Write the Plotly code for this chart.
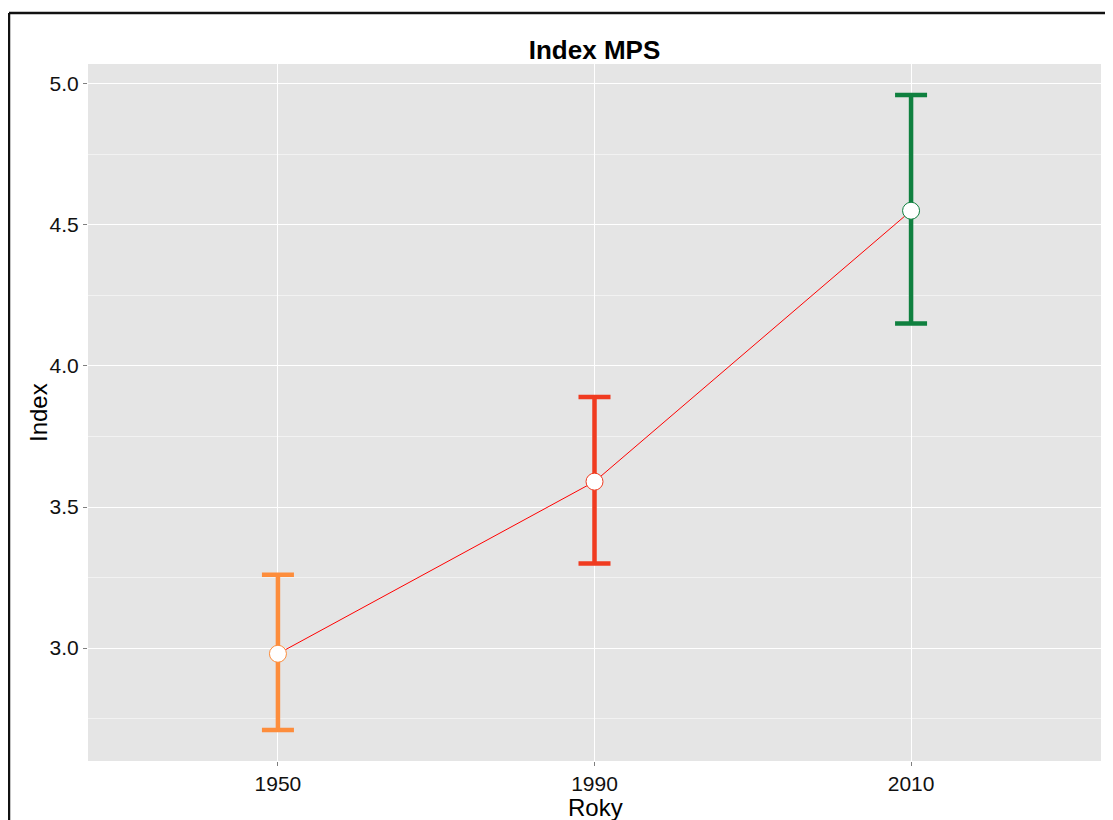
import plotly.graph_objects as go

years = ["1950", "1990", "2010"]
means = [2.98, 3.59, 4.55]
upper = [3.26, 3.89, 4.96]
lower = [2.71, 3.30, 4.15]
colors = ["#FD8D3C", "#F03B20", "#0F803F"]

# the page body has an 8px margin, so the figure is offset by (8, 8)
OFF = 8
W, H = 1113 - OFF, 820 - OFF
L, R, T, B = 88 - OFF, 12, 64 - OFF, 59
pw, ph = 1013, 697
PX0, PY1 = 88, 761  # panel left / bottom in page pixels

fig = go.Figure()

for yr, m, u, lo, c in zip(years, means, upper, lower, colors):
    fig.add_trace(go.Scatter(
        x=[yr], y=[m], mode="markers",
        marker=dict(size=1, color="rgba(0,0,0,0)"),
        error_y=dict(type="data", symmetric=False, array=[u - m], arrayminus=[m - lo],
                     color=c, thickness=4.5, width=16),
        showlegend=False, hoverinfo="skip"))

fig.add_trace(go.Scatter(x=years, y=means, mode="lines",
                         line=dict(color="#FF0000", width=1), showlegend=False))

fig.add_trace(go.Scatter(x=years, y=means, mode="markers",
                         marker=dict(size=17, color="white", line=dict(color=colors, width=1)),
                         showlegend=False))

def px2x(p):
    return (p - PX0) / pw

def px2y(p):
    return (PY1 - p) / ph

fig.add_shape(type="line", xref="paper", yref="paper",
              x0=px2x(9), x1=px2x(1125), y0=px2y(13), y1=px2y(13),
              line=dict(color="#111111", width=2.5))
fig.add_shape(type="line", xref="paper", yref="paper",
              x0=px2x(9), x1=px2x(9), y0=px2y(13), y1=px2y(830),
              line=dict(color="#111111", width=2.5))

fig.add_annotation(text="Index", xref="paper", yref="paper", x=px2x(38), y=px2y(413),
                   xanchor="center", yanchor="middle", textangle=-90, showarrow=False,
                   font=dict(size=24, color="#000000"))
fig.add_annotation(text="Roky", xref="paper", yref="paper", x=px2x(595), y=px2y(807),
                   xanchor="center", yanchor="middle", showarrow=False,
                   font=dict(size=24, color="#000000"))

fig.update_layout(
    width=W, height=H,
    margin=dict(l=L, r=R, t=T, b=B, pad=0),
    paper_bgcolor="white", plot_bgcolor="#E5E5E5",
    font=dict(family="Liberation Sans, Arial, sans-serif", color="#111111"),
    title=dict(text="<b>Index MPS</b>", x=0.5, xref="paper", xanchor="center",
               y=1 - (50 - OFF) / H, yref="container", yanchor="middle",
               font=dict(size=26, color="#000000")),
    xaxis=dict(type="category", range=[-0.6, 2.6], showgrid=True, gridcolor="white", gridwidth=1.2,
               zeroline=False, ticks="outside", ticklen=4, tickcolor="#7F7F7F", tickwidth=1,
               tickfont=dict(size=21, color="#111111")),
    yaxis=dict(range=[2.6, 5.07], tickvals=[3.0, 3.5, 4.0, 4.5, 5.0],
               ticktext=["3.0", "3.5", "4.0", "4.5", "5.0"],
               showgrid=True, gridcolor="white", gridwidth=1.2,
               minor=dict(tickvals=[2.75, 3.25, 3.75, 4.25, 4.75], showgrid=True,
                          gridcolor="#F2F2F2", gridwidth=0.6),
               zeroline=False, ticks="outside", ticklen=4, tickcolor="#7F7F7F", tickwidth=1,
               tickfont=dict(size=21, color="#111111")),
)

fig.write_html("out.html")
